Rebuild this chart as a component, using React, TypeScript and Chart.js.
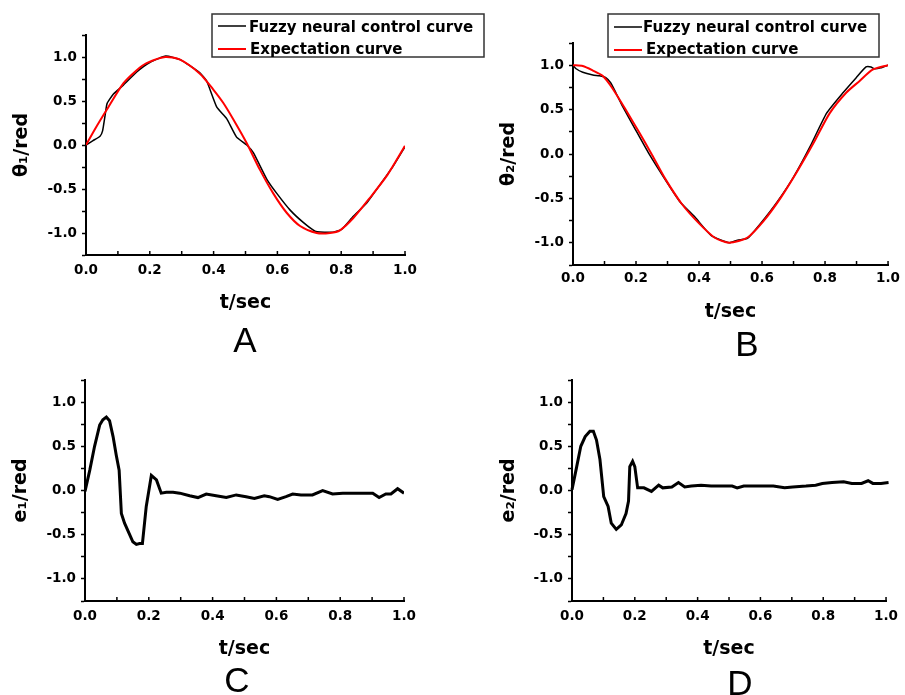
import { useEffect, useRef } from 'react';
import { Chart, registerables } from 'chart.js';

Chart.register(...registerables);

// ---------- data ----------
const xTickLabels = ['0.0', '0.2', '0.4', '0.6', '0.8', '1.0'];
const yTickLabels = ['-1.0', '-0.5', '0.0', '0.5', '1.0'];
const legendLabels = ['Fuzzy neural control curve', 'Expectation curve'];
const panelLetters = ['A', 'B', 'C', 'D'];
const yTitles = ['θ₁/red', 'θ₂/red', 'e₁/red', 'e₂/red'];
const xTitle = 't/sec';

// Panel A
const tFuzzyA = [0, 0.022, 0.044, 0.052, 0.06, 0.066, 0.086, 0.117, 0.159, 0.201, 0.25, 0.295, 0.357, 0.378, 0.41, 0.441, 0.472, 0.504, 0.525, 0.567, 0.598, 0.64, 0.681, 0.718, 0.734, 0.775, 0.801, 0.838, 0.88, 0.922, 0.963, 1.0];
const fuzzyA = [0, 0.05, 0.1, 0.16, 0.34, 0.47, 0.58, 0.68, 0.83, 0.94, 1.01, 0.97, 0.82, 0.73, 0.43, 0.3, 0.09, 0.0, -0.09, -0.39, -0.55, -0.74, -0.88, -0.98, -0.99, -0.99, -0.96, -0.81, -0.66, -0.45, -0.24, -0.02];
const tExpectA = [0, 0.033, 0.065, 0.117, 0.159, 0.19, 0.248, 0.295, 0.357, 0.399, 0.43, 0.462, 0.504, 0.545, 0.587, 0.629, 0.671, 0.723, 0.765, 0.796, 0.838, 0.89, 0.945, 1.0];
const expectA = [0, 0.21, 0.4, 0.7, 0.85, 0.93, 1.0, 0.97, 0.81, 0.63, 0.48, 0.29, 0.02, -0.28, -0.55, -0.77, -0.92, -1.0, -1.0, -0.97, -0.83, -0.6, -0.34, -0.01];

// Panel B
const tFuzzyB = [0, 0.01, 0.031, 0.063, 0.084, 0.104, 0.12, 0.136, 0.157, 0.199, 0.24, 0.293, 0.34, 0.387, 0.439, 0.496, 0.522, 0.554, 0.596, 0.648, 0.7, 0.752, 0.805, 0.857, 0.899, 0.93, 0.946, 0.956, 0.977, 1.0];
const fuzzyB = [1.0, 0.96, 0.92, 0.89, 0.88, 0.86, 0.8, 0.69, 0.54, 0.27, 0.01, -0.29, -0.54, -0.71, -0.92, -1.0, -0.97, -0.95, -0.78, -0.54, -0.26, 0.08, 0.46, 0.69, 0.86, 0.98, 0.98, 0.96, 0.97, 1.0];
const tExpectB = [0, 0.031, 0.063, 0.094, 0.125, 0.167, 0.209, 0.251, 0.293, 0.345, 0.397, 0.449, 0.496, 0.554, 0.606, 0.658, 0.711, 0.763, 0.815, 0.867, 0.909, 0.951, 1.0];
const expectB = [1.0, 0.99, 0.94, 0.88, 0.74, 0.5, 0.25, -0.01, -0.28, -0.56, -0.77, -0.94, -1.0, -0.94, -0.75, -0.5, -0.2, 0.12, 0.46, 0.69, 0.82, 0.95, 1.0];

// Panel C
const tErrC = [0, 0.015, 0.03, 0.046, 0.056, 0.067, 0.077, 0.088, 0.098, 0.107, 0.114, 0.124, 0.14, 0.15, 0.161, 0.171, 0.18, 0.192, 0.208, 0.224, 0.239, 0.255, 0.276, 0.297, 0.328, 0.354, 0.38, 0.411, 0.443, 0.474, 0.505, 0.531, 0.562, 0.578, 0.604, 0.63, 0.651, 0.677, 0.713, 0.745, 0.776, 0.808, 0.839, 0.871, 0.902, 0.922, 0.943, 0.959, 0.98, 1.0];
const errC = [-0.01, 0.23, 0.5, 0.74, 0.8, 0.83, 0.79, 0.61, 0.4, 0.23, -0.26, -0.37, -0.5, -0.58, -0.61, -0.6, -0.6, -0.18, 0.17, 0.12, -0.03, -0.02, -0.02, -0.03, -0.06, -0.08, -0.04, -0.06, -0.08, -0.05, -0.07, -0.09, -0.06, -0.07, -0.1, -0.07, -0.04, -0.05, -0.05, 0.0, -0.04, -0.03, -0.03, -0.03, -0.03, -0.08, -0.04, -0.04, 0.02, -0.03];

// Panel D
const tErrD = [0, 0.015, 0.028, 0.042, 0.057, 0.068, 0.078, 0.089, 0.101, 0.115, 0.125, 0.141, 0.157, 0.172, 0.18, 0.184, 0.193, 0.2, 0.209, 0.229, 0.253, 0.276, 0.289, 0.318, 0.339, 0.359, 0.38, 0.411, 0.443, 0.484, 0.51, 0.526, 0.547, 0.589, 0.641, 0.677, 0.703, 0.745, 0.776, 0.797, 0.828, 0.865, 0.891, 0.922, 0.943, 0.958, 0.984, 1.008];
const errD = [0.01, 0.27, 0.5, 0.61, 0.67, 0.67, 0.57, 0.35, -0.07, -0.18, -0.37, -0.44, -0.39, -0.26, -0.12, 0.27, 0.33, 0.27, 0.03, 0.03, -0.01, 0.06, 0.03, 0.04, 0.09, 0.04, 0.05, 0.06, 0.05, 0.05, 0.05, 0.03, 0.05, 0.05, 0.05, 0.03, 0.04, 0.05, 0.06, 0.08, 0.09, 0.1, 0.08, 0.08, 0.11, 0.08, 0.08, 0.09];

// ---------- helpers ----------
const pts = (t: number[], v: number[]) => t.map((x, i) => ({ x, y: v[i] }));

const FONT = 'DejaVu Sans';

const innerXTicks = {
  id: 'innerXTicks',
  afterDraw(chart: any) {
    const s = chart.scales.x;
    const ctx = chart.ctx;
    ctx.save();
    ctx.strokeStyle = '#000';
    ctx.lineWidth = 1.5;
    s.ticks.forEach((_: any, i: number) => {
      const px = s.getPixelForTick(i);
      ctx.beginPath();
      ctx.moveTo(px, s.top);
      ctx.lineTo(px, s.top - 4);
      ctx.stroke();
    });
    ctx.restore();
  },
};

const boxLegend = {
  id: 'boxLegend',
  afterDraw(chart: any, _args: any, opts: any) {
    if (!opts || !opts.show) return;
    const ctx = chart.ctx;
    const { x, y, w, h, x1, x2, tx, rows } = opts;
    ctx.save();
    ctx.fillStyle = '#fff';
    ctx.fillRect(x, y, w, h);
    ctx.strokeStyle = '#333';
    ctx.lineWidth = 1.5;
    ctx.strokeRect(x, y, w, h);
    chart.data.datasets.forEach((ds: any, i: number) => {
      const r = rows[i];
      ctx.strokeStyle = ds.borderColor;
      ctx.lineWidth = ds.borderWidth;
      ctx.beginPath();
      ctx.moveTo(x1, r.ly);
      ctx.lineTo(x2, r.ly);
      ctx.stroke();
      ctx.fillStyle = '#000';
      ctx.font = `bold 15px "${FONT}"`;
      ctx.textBaseline = 'alphabetic';
      ctx.textAlign = 'left';
      ctx.fillText(ds.label, tx + (r.dx || 0), r.ty);
    });
    ctx.restore();
  },
};

type Panel = {
  canvas: { left: number; top: number; width: number; height: number };
  area: { left: number; top: number; right: number; bottom: number };
  xTitleY: number;
  yTitleX: number;
  xLabelPad: number;
  yTitle: string;
  datasets: any[];
  legend?: any;
  letter: string;
  letterX: number;
  letterY: number;
};

const panels: Panel[] = [
  {
    canvas: { left: 0, top: 0, width: 490, height: 330 },
    area: { left: 86, top: 35, right: 405, bottom: 255 },
    xTitleY: 303,
    yTitleX: 22,
    xLabelPad: 7,
    yTitle: yTitles[0],
    datasets: [
      { label: legendLabels[0], data: pts(tFuzzyA, fuzzyA), borderColor: '#000000', borderWidth: 1.5, tension: 0.15, order: 2 },
      { label: legendLabels[1], data: pts(tExpectA, expectA), borderColor: '#ff0000', borderWidth: 2, tension: 0.25, order: 1 },
    ],
    legend: { show: true, x: 212, y: 14, w: 272, h: 43, x1: 218, x2: 246, tx: 249, rows: [{ ly: 26, ty: 31.5 }, { ly: 49, ty: 53.5, dx: 1 }] },
    letter: panelLetters[0],
    letterX: 245,
    letterY: 340,
  },
  {
    canvas: { left: 480, top: 0, width: 425, height: 340 },
    area: { left: 573, top: 43, right: 892, bottom: 265 },
    xTitleY: 312,
    yTitleX: 509,
    xLabelPad: 5,
    yTitle: yTitles[1],
    datasets: [
      { label: legendLabels[0], data: pts(tFuzzyB, fuzzyB), borderColor: '#000000', borderWidth: 1.5, tension: 0.15, order: 2 },
      { label: legendLabels[1], data: pts(tExpectB, expectB), borderColor: '#ff0000', borderWidth: 2, tension: 0.25, order: 1 },
    ],
    legend: { show: true, x: 128, y: 14, w: 271, h: 43, x1: 134, x2: 162, tx: 163, rows: [{ ly: 27, ty: 32 }, { ly: 50, ty: 53.5, dx: 3 }] },
    letter: panelLetters[1],
    letterX: 747,
    letterY: 344,
  },
  {
    canvas: { left: 0, top: 365, width: 470, height: 310 },
    area: { left: 85, top: 380, right: 404, bottom: 601 },
    xTitleY: 649,
    yTitleX: 21,
    xLabelPad: 7,
    yTitle: yTitles[2],
    datasets: [
      { label: 'e1', data: pts(tErrC, errC), borderColor: '#000000', borderWidth: 3, tension: 0 },
    ],
    letter: panelLetters[2],
    letterX: 237,
    letterY: 680,
  },
  {
    canvas: { left: 480, top: 365, width: 425, height: 310 },
    area: { left: 572, top: 380, right: 892, bottom: 601 },
    xTitleY: 649,
    yTitleX: 509,
    xLabelPad: 7,
    yTitle: yTitles[3],
    datasets: [
      { label: 'e2', data: pts(tErrD, errD), borderColor: '#000000', borderWidth: 3, tension: 0, clip: false },
    ],
    letter: panelLetters[3],
    letterX: 740,
    letterY: 683,
  },
];

const labelFor = (list: string[]) => (v: any) => {
  const n = Number(v);
  const s = (Math.abs(n) < 1e-9 ? 0 : n).toFixed(1);
  return list.includes(s) ? s : '';
};

function PanelChart({ p }: { p: Panel }) {
  const ref = useRef<HTMLCanvasElement | null>(null);
  useEffect(() => {
    if (!ref.current) return;
    const c = p.canvas;
    const a = p.area;
    const titleSize = 19;
    const titleLH = titleSize * 1.2;
    const yWidth = a.left - c.left;
    const padTop = a.top - c.top;
    const padRight = c.left + c.width - a.right;
    const xHeight = p.xTitleY + titleLH / 2 + 4 - a.bottom;
    const padBottom = c.top + c.height - a.bottom - xHeight;
    const yTitlePadTop = p.yTitleX - c.left - titleLH / 2;

    const chart = new Chart(ref.current, {
      type: 'line',
      data: {
        datasets: p.datasets.map((d) => ({ ...d, pointRadius: 0, fill: false })),
      },
      plugins: [innerXTicks, boxLegend],
      options: {
        animation: false,
        responsive: false,
        layout: { padding: { top: padTop, right: padRight, bottom: padBottom, left: 0 } },
        plugins: {
          legend: { display: false },
          tooltip: { enabled: false },
          boxLegend: p.legend || { show: false },
        } as any,
        scales: {
          x: {
            type: 'linear',
            min: 0,
            max: 1.0,
            afterFit: (s: any) => { s.height = xHeight; },
            ticks: {
              stepSize: 0.1,
              autoSkip: false,
              maxRotation: 0,
              padding: p.xLabelPad,
              color: '#000',
              font: { family: FONT, weight: 'bold', size: 13.5 },
              callback: labelFor(xTickLabels),
            },
            grid: { drawOnChartArea: false, drawTicks: false },
            border: { display: true, color: '#000', width: 2 },
            title: {
              display: true,
              text: xTitle,
              color: '#000',
              font: { family: FONT, weight: 'bold', size: titleSize },
              padding: { top: 0, bottom: 4 },
            },
          },
          y: {
            type: 'linear',
            min: -1.25,
            max: 1.25,
            afterFit: (s: any) => { s.width = yWidth; },
            ticks: {
              stepSize: 0.25,
              autoSkip: false,
              padding: 5,
              color: '#000',
              font: { family: FONT, weight: 'bold', size: 13.5 },
              callback: labelFor(yTickLabels),
            },
            grid: { drawOnChartArea: false, drawTicks: true, tickLength: 4, tickColor: '#000', tickWidth: 1.5 },
            border: { display: true, color: '#000', width: 2 },
            title: {
              display: true,
              text: p.yTitle,
              color: '#000',
              font: { family: FONT, weight: 'bold', size: titleSize },
              padding: { top: yTitlePadTop, bottom: 0 },
            },
          },
        },
      } as any,
    });
    return () => chart.destroy();
  }, [p]);

  return (
    <>
      <canvas
        ref={ref}
        width={p.canvas.width}
        height={p.canvas.height}
        style={{ position: 'absolute', left: p.canvas.left, top: p.canvas.top, width: p.canvas.width, height: p.canvas.height, display: 'block' }}
      />
      <div
        style={{
          position: 'absolute',
          left: p.letterX - 50,
          top: p.letterY - 20,
          width: 100,
          textAlign: 'center',
          fontFamily: '"Liberation Sans", Arial, sans-serif',
          fontSize: 35,
          lineHeight: '40px',
          color: '#000',
        }}
      >
        {p.letter}
      </div>
    </>
  );
}

export default function App() {
  return (
    <div style={{ position: 'absolute', left: 0, top: 0, width: 905, height: 695, overflow: 'hidden', background: '#fff' }}>
      {panels.map((p, i) => (
        <PanelChart key={i} p={p} />
      ))}
    </div>
  );
}
